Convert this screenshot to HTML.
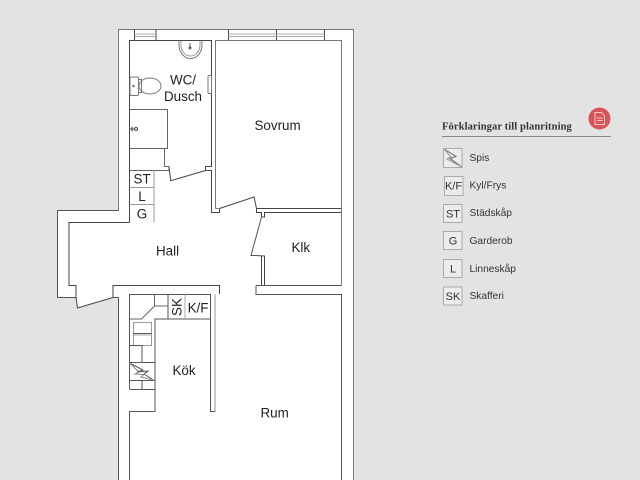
<!DOCTYPE html>
<html><head><meta charset="utf-8"><style>
html,body{margin:0;padding:0;background:#e3e3e3;width:640px;height:480px;overflow:hidden}
svg{display:block;filter:blur(.3px)}
text{font-family:"Liberation Sans",sans-serif;fill:#222}
.r{font-size:13.4px}
.c{font-size:13.4px;text-anchor:middle}
.l{font-size:10.2px;fill:#333}
.b{font-size:11px;text-anchor:middle;fill:#333}
</style></head><body>
<svg width="640" height="480" viewBox="0 0 640 480" xmlns="http://www.w3.org/2000/svg">
<rect width="640" height="480" fill="#e3e3e3"/>
<polygon points="118,29.5 353.5,29.5 353.5,480 118.5,480 118.5,297.5 113,297.5 77.5,308 76,297.5 57.5,297.5 57.5,210.5 118.5,210.5" fill="#fff"/>
<g fill="none" stroke="#666" stroke-width="1">
<!-- outer -->
<path d="M118.5,210.5V29.5H353.5V480" stroke="#777"/>
<path d="M118.5,210.5H57.5V297.5H76M113,297.5H118.5V480" stroke="#555"/>
<!-- hall inner -->
<path d="M129.5,222.5H69V285.5H76V297.5L77.5,308L113,297.5V285.5H219.5V294" stroke="#444"/>
<!-- bath -->
<path d="M129.5,222.5V40.5H211.5V166.5H205.5V170.5H211.5V212.5H219.5V208.5L254,197L256.5,208.5H342" stroke="#444"/>
<path d="M215.5,208.5V40.5H341.5V285.5" stroke="#777"/>
<path d="M215.5,208.5H219.5" stroke="#888"/>
<!-- windows -->
<path d="M134.5,29.5V40.5M156,29.5V40.5M228.5,29.5V40.5M276.5,29.5V40.5M324.5,29.5V40.5" stroke="#444"/>
<path d="M134.5,34H156M134.5,36.5H156M228.5,34H324.5M228.5,36.5H324.5" stroke="#aaa"/>
<!-- shower -->
<path d="M129.5,109.5H167.5V148.5H129.5" stroke="#666"/>
<path d="M164.5,148.5V166.5H169V170.5H129.5" stroke="#666"/>
<path d="M169,166.5L170.7,180.7L205.5,170.5" stroke="#444"/>
<path d="M130,129H134M132,126.5V131.5" stroke="#444"/>
<circle cx="136" cy="129" r="1.5" stroke="#444"/>
<!-- closet -->
<path d="M154,170.5V222.5" stroke="#999"/>
<path d="M129.5,187.5H154M129.5,204.5H154" stroke="#999"/>
<!-- sink -->
<path d="M179,40.5V45A11.5,13.5 0 0 0 202,45V40.5" stroke="#777"/>
<path d="M181,41V45A9.5,11 0 0 0 200,45V41" stroke="#999"/>
<path d="M190,43V48" stroke="#555"/>
<circle cx="190" cy="48" r="1" stroke="#555"/>
<!-- toilet -->
<rect x="130" y="77" width="8.5" height="18.5" rx="1.5" stroke="#777"/>
<path d="M138.5,79.5H142M138.5,92.5H142M141.5,79.5V92.5" stroke="#777"/>
<ellipse cx="150" cy="86" rx="11" ry="8" stroke="#777"/>
<circle cx="133.5" cy="86" r=".8" stroke="#777"/>
<!-- radiator -->
<rect x="208" y="75.5" width="3.5" height="18" rx="1" stroke="#777"/>
<!-- klk -->
<path d="M256.5,208.5V212.5H261.5V217H264.5V212.5H341.5" stroke="#444"/>
<path d="M261.5,217L251,255.5L255,255.5" stroke="#555"/>
<path d="M255,255.5 L264.5,256V285.5M261.5,256V285.5" stroke="#444"/>
<path d="M256,285.5H341.5M256,285.5V294.5H341.5V480" stroke="#555"/>
<!-- kitchen -->
<path d="M129.5,389V294.5H210.5V319H155V411.5H129.5V480" stroke="#555"/>
<path d="M154.5,294.5V306H168M154.5,306L141.5,319H129.5" stroke="#666"/>
<path d="M168,294.5V319" stroke="#555"/>
<path d="M185,294.5V319" stroke="#aaa"/>
<path d="M210.5,294.5V411.5H215V294.5" stroke="#555"/>
<path d="M215,294.5V411.5" stroke="#999"/>
<rect x="133.5" y="322.5" width="18" height="23" stroke="#999"/>
<path d="M133.5,333.5H151.5" stroke="#555"/>
<path d="M133.5,335H151.5" stroke="#aaa"/>
<path d="M129.5,345.5H142V362.5M129.5,362.5H155M129.5,380.5H155M129.5,389.5H155M142,380.5V389.5" stroke="#555"/>
<path d="M129.5,363L143,370L137,372L148,371L144,374L153.5,380" stroke="#555"/>
<path d="M129.5,363L139,372L135,374L144,374.5L141,377L153.5,380" stroke="#888"/>
<!-- legend -->
<path d="M442,136.5H611" stroke="#888"/>
<g stroke="#aaa" fill="#ececec">
<rect x="443.5" y="148.5" width="18.5" height="19"/>
<rect x="444.5" y="176.5" width="18.5" height="19"/>
<rect x="443.5" y="204.5" width="18.5" height="18"/>
<rect x="443.5" y="231.5" width="18.5" height="18"/>
<rect x="443.5" y="259.5" width="18.5" height="18"/>
<rect x="443.5" y="287" width="18.5" height="18"/>
</g>
<path d="M444,149L456,156.5L450,158.5L462,167" stroke="#666"/>
<path d="M444,149L451,157L447,159L462,167" stroke="#999"/>
</g>
<circle cx="599.5" cy="118.5" r="11" fill="#d9545a"/>
<path d="M595,112.5H601.5L604.5,115.5V124.5H595Z" fill="none" stroke="#f3c9cb" stroke-width="1"/>
<path d="M597,118H602.5M597,120.5H602.5" stroke="#f3c9cb" stroke-width="1"/>

<text class="c" x="183" y="84.5">WC/</text>
<text class="c" x="183" y="101">Dusch</text>
<text class="r" x="254.5" y="130">Sovrum</text>
<text class="r" x="156" y="255.5">Hall</text>
<text class="r" x="291.5" y="252">Klk</text>
<text class="r" x="172.5" y="375">Kök</text>
<text class="r" x="260.5" y="417.5">Rum</text>
<text class="c" x="142" y="183.5">ST</text>
<text class="c" x="142" y="201">L</text>
<text class="c" x="142" y="218.5">G</text>
<text class="c" x="198" y="312.5">K/F</text>
<text class="c" transform="translate(181.5,307) rotate(-90)">SK</text>

<text x="442" y="129.5" style="font-family:'Liberation Serif',serif;font-weight:bold;font-size:10.5px;letter-spacing:.1px;fill:#333">Förklaringar till planritning</text>
<text class="b" x="453.5" y="189.5">K/F</text>
<text class="b" x="453" y="217.5">ST</text>
<text class="b" x="453" y="244.5">G</text>
<text class="b" x="453" y="272.5">L</text>
<text class="b" x="453" y="300">SK</text>
<text class="l" x="469.5" y="161">Spis</text>
<text class="l" x="469.5" y="188.5">Kyl/Frys</text>
<text class="l" x="469.5" y="216">Städskåp</text>
<text class="l" x="469.5" y="244">Garderob</text>
<text class="l" x="469.5" y="272">Linneskåp</text>
<text class="l" x="469.5" y="299">Skafferi</text>
</svg>
</body></html>
